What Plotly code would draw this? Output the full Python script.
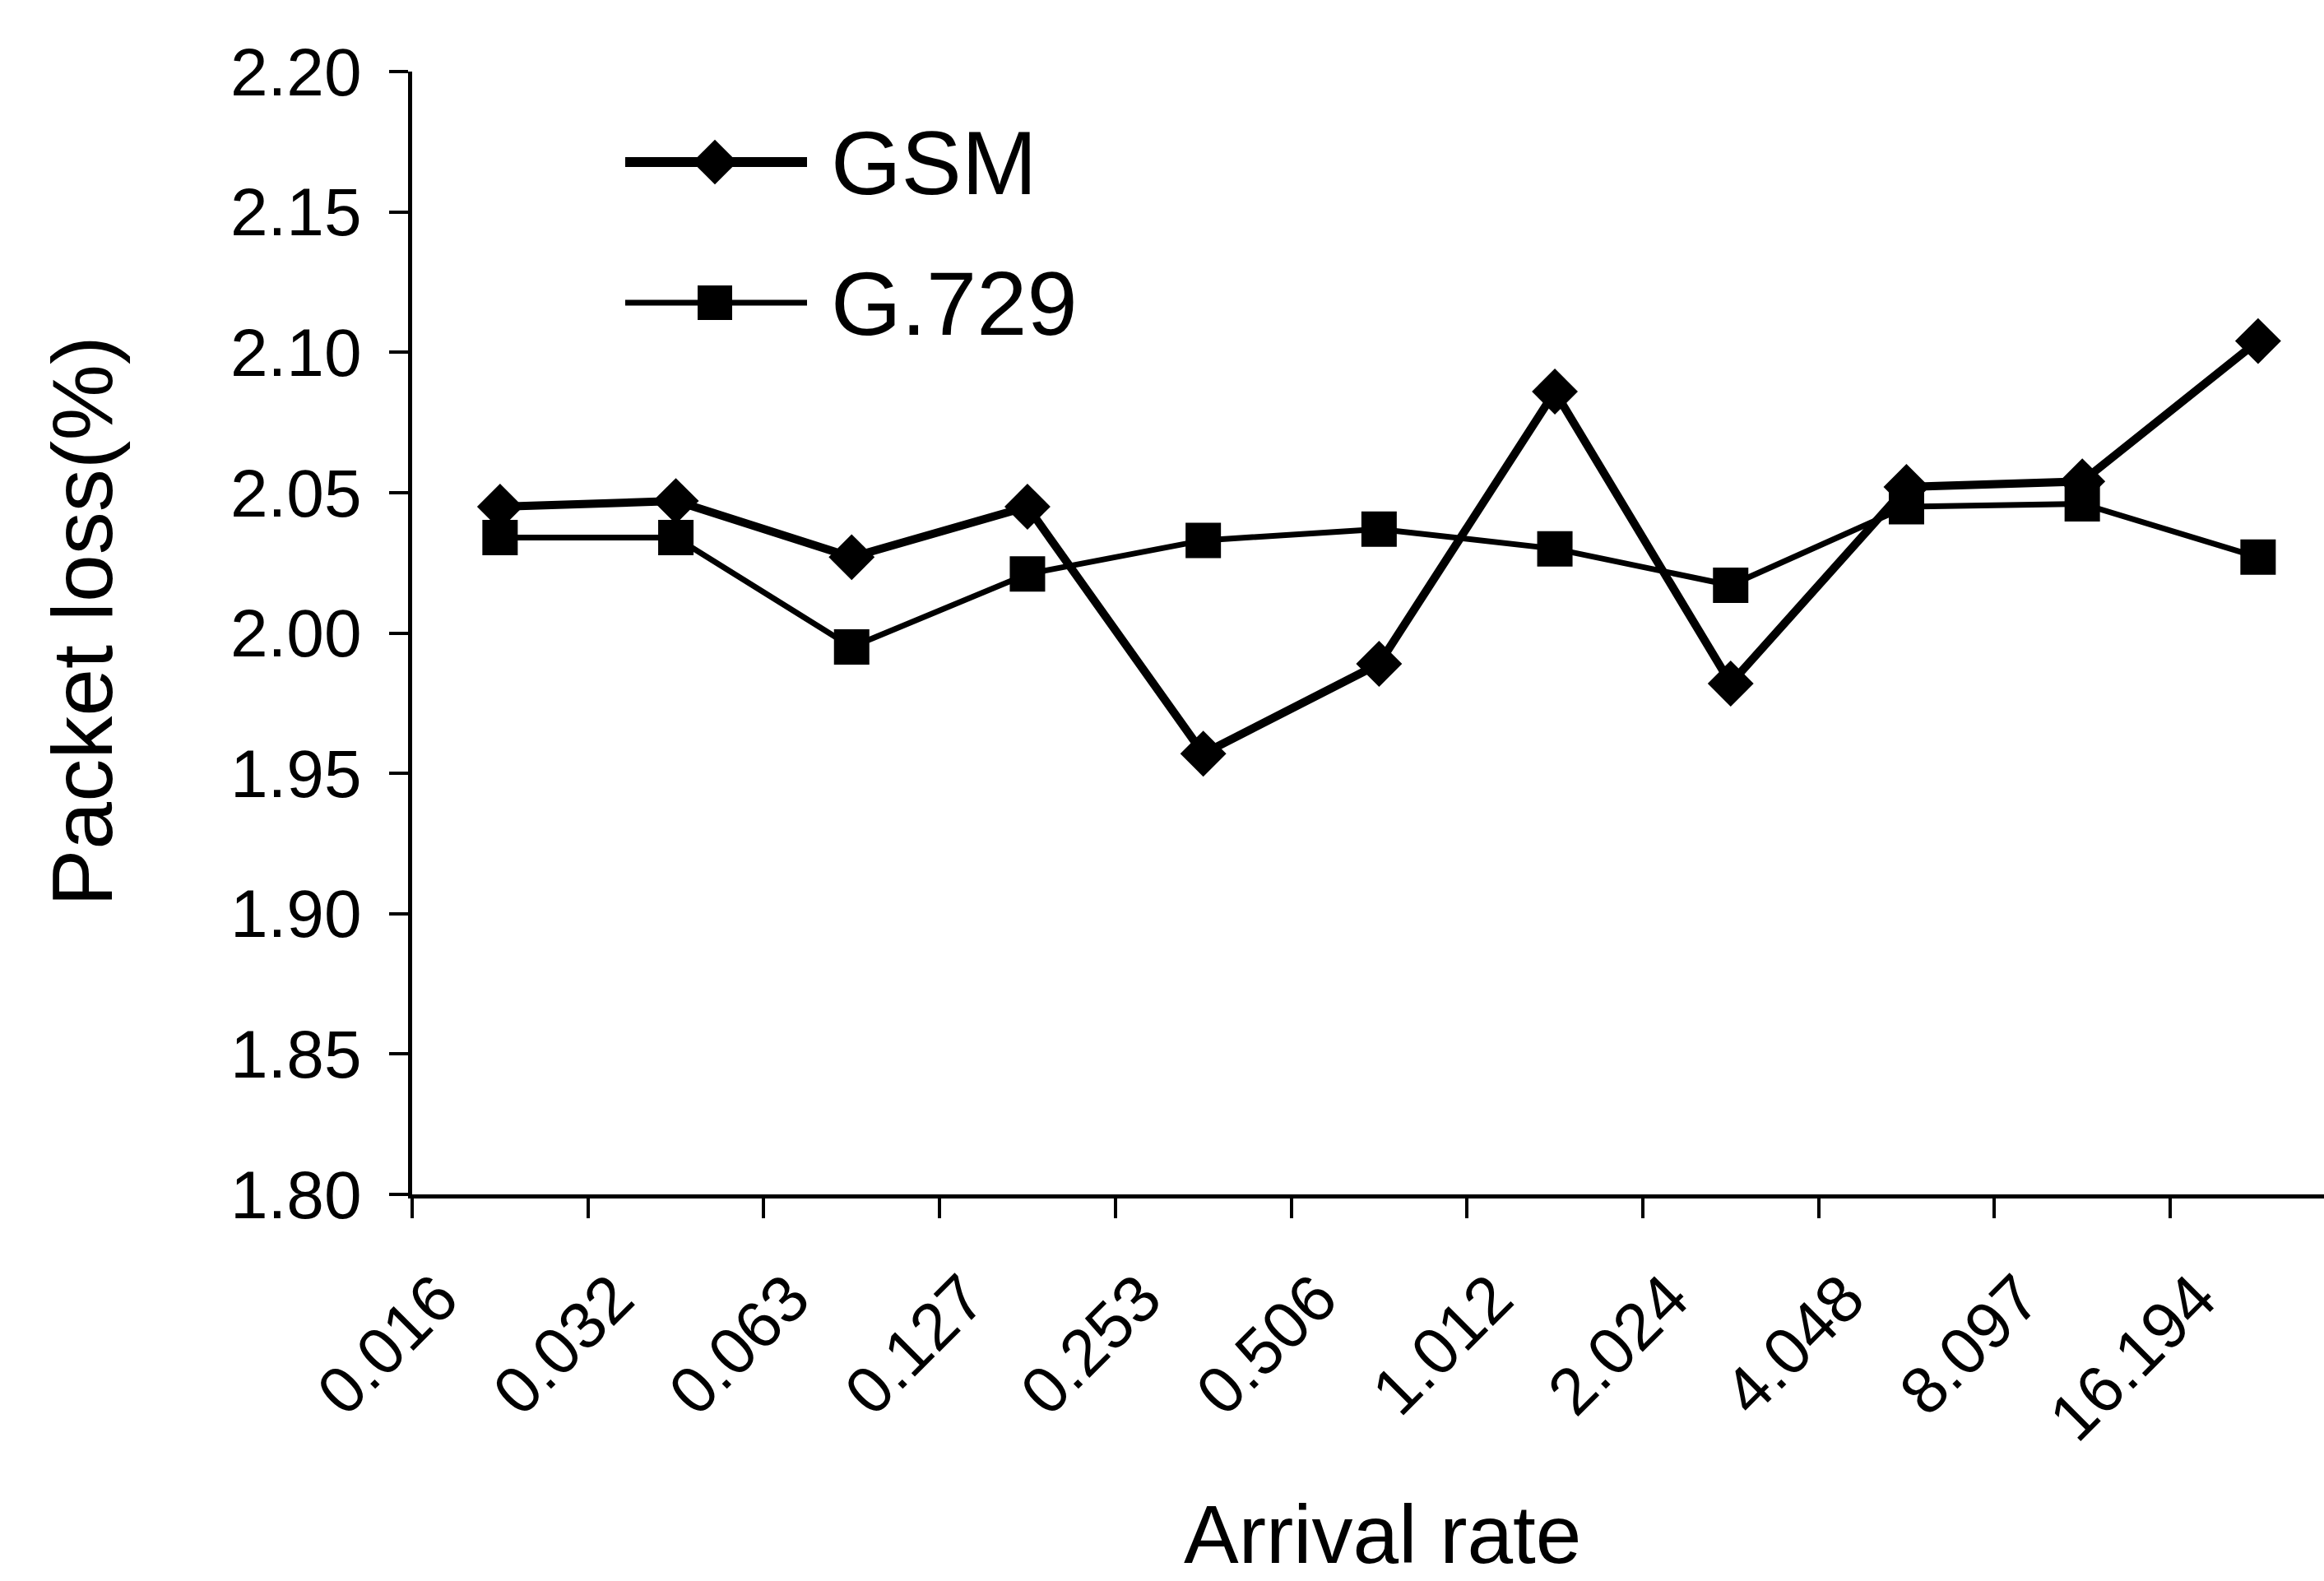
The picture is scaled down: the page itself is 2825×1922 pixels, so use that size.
import plotly.graph_objects as go

# Arrival-rate categories and packet-loss measurements (%)
arrival_rates = ["0.016", "0.032", "0.063", "0.127", "0.253", "0.506",
                 "1.012", "2.024", "4.048", "8.097", "16.194"]
gsm_loss = [2.045, 2.047, 2.027, 2.045, 1.957, 1.989, 2.086, 1.982, 2.052, 2.054, 2.104]
g729_loss = [2.034, 2.034, 1.995, 2.021, 2.033, 2.037, 2.030, 2.017, 2.045, 2.046, 2.027]
series_names = ["GSM", "G.729"]
y_ticks = [1.80, 1.85, 1.90, 1.95, 2.00, 2.05, 2.10, 2.15, 2.20]

W, H = 2825, 1922
FONT = "Liberation Sans, Arial, sans-serif"
INK = "black"

fig = go.Figure()

fig.add_trace(go.Scatter(
    x=arrival_rates, y=gsm_loss, mode="lines+markers", name=series_names[0],
    line=dict(color=INK, width=10),
    marker=dict(symbol="diamond", size=43, color=INK),
    showlegend=False,
))
fig.add_trace(go.Scatter(
    x=arrival_rates, y=g729_loss, mode="lines+markers", name=series_names[1],
    line=dict(color=INK, width=7),
    marker=dict(symbol="square", size=43, color=INK),
    showlegend=False,
))

# Legend drawn on a separate full-page subplot measured in pixels
legend_rows = [(series_names[0], "diamond", 12, 197), (series_names[1], "square", 7, 368)]
for name, sym, lw, ypix in legend_rows:
    fig.add_trace(go.Scatter(
        x=[760, 981], y=[ypix, ypix], mode="lines", xaxis="x2", yaxis="y2",
        line=dict(color=INK, width=lw), showlegend=False, hoverinfo="skip",
    ))
    fig.add_trace(go.Scatter(
        x=[869], y=[ypix], mode="markers", xaxis="x2", yaxis="y2",
        marker=dict(symbol=sym, size=42, color=INK), showlegend=False, hoverinfo="skip",
    ))
    fig.add_annotation(
        x=1008, y=ypix, xref="x2", yref="y2", text=name, showarrow=False,
        xanchor="left", yanchor="middle", font=dict(family=FONT, size=110, color=INK),
    )

x_left, y_top_px, y_bot_px = 501, 87, 1452
fig.update_layout(
    width=W, height=H,
    margin=dict(l=0, r=0, t=0, b=0, pad=0, autoexpand=False),
    paper_bgcolor="white", plot_bgcolor="rgba(0,0,0,0)",
    font=dict(family=FONT, color=INK),
    showlegend=False,
    xaxis=dict(
        type="category", domain=[x_left / W, 1.0], range=[-0.5, 10.375],
        automargin=False,
        showline=True, linecolor=INK, linewidth=5,
        ticks="outside", tickson="boundaries", ticklen=24, tickwidth=4, tickcolor=INK,
        tickangle=-45, tickfont=dict(family=FONT, size=80, color=INK),
        ticklabelstandoff=42, ticklabelshift=-75,
        showgrid=False, zeroline=False,
    ),
    yaxis=dict(
        domain=[(H - y_bot_px) / H, (H - y_top_px) / H], range=[1.80, 2.20],
        automargin=False,
        tickvals=y_ticks, ticktext=[f"{v:.2f}" for v in y_ticks],
        showline=True, linecolor=INK, linewidth=5,
        ticks="outside", ticklen=23, tickwidth=4, tickcolor=INK,
        tickfont=dict(family=FONT, size=82, color=INK),
        ticklabelstandoff=17,
        showgrid=False, zeroline=False,
    ),
    xaxis2=dict(domain=[0, 1], range=[0, W], visible=False, anchor="y2", automargin=False),
    yaxis2=dict(domain=[0, 1], range=[H, 0], visible=False, anchor="x2", automargin=False),
    annotations=list(fig.layout.annotations) + [
        dict(text="Packet loss(%)", x=100 / W, y=(H - 755) / H, xref="paper", yref="paper",
             textangle=-90, showarrow=False, xanchor="center", yanchor="middle",
             font=dict(family=FONT, size=104, color=INK)),
        dict(text="Arrival rate", x=1680 / W, y=0, xref="paper", yref="paper",
             showarrow=False, xanchor="center", yanchor="bottom", borderpad=0,
             font=dict(family=FONT, size=100, color=INK)),
    ],
)

fig.write_html("out.html")
